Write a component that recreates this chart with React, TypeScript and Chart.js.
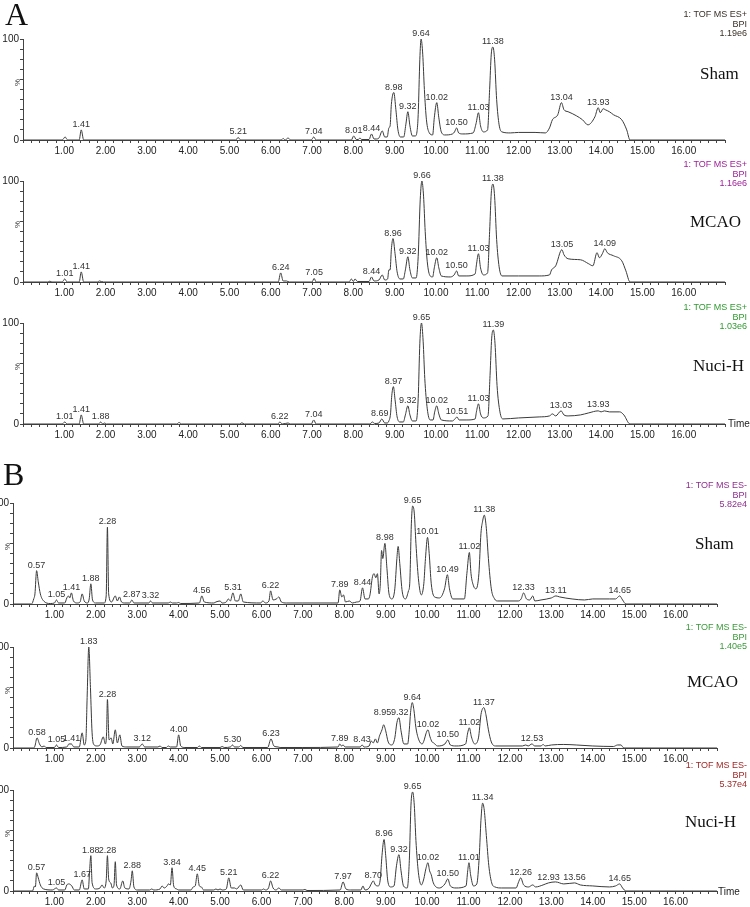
import React, { useEffect, useRef } from 'react';
import { Chart, registerables } from 'chart.js';

Chart.register(...registerables);

type Pt = [number, number];
type PeakLabel = [number, number, string];

// ---------- axis data ----------
const X_MIN = 0;
const X_MAX = 17;
const xMajorTicks = [1, 2, 3, 4, 5, 6, 7, 8, 9, 10, 11, 12, 13, 14, 15, 16];
const yLabeledTicks = [0, 100];

// ---------- text data ----------
const sectionLetters = ['A', 'B'];
const groupNames = ['Sham', 'MCAO', 'Nuci-H'];
const modeA = ['1: TOF MS ES+', 'BPI'];
const modeB = ['1: TOF MS ES-', 'BPI'];
const intensitiesA = ['1.19e6', '1.16e6', '1.03e6'];
const intensitiesB = ['5.82e4', '1.40e5', '5.37e4'];
const modeColorsA = ['#3a3028', '#a0209a', '#2f9a2f'];
const modeColorsB = ['#8e2f8e', '#3a9a3a', '#a02828'];

// ---------- traces (retention time [min], relative intensity [%]) ----------
const aShamTrace: Pt[] = [
  [0, 0], [0.95, 0], [1.02, 3], [1.08, 0], [1.36, 0], [1.41, 10], [1.47, 0], [5.15, 0], [5.21, 2.5], [5.27, 0],
  [6.25, 0], [6.3, 1.5], [6.35, 0], [6.42, 2], [6.48, 0], [6.98, 0], [7.04, 3], [7.1, 0], [7.95, 0], [8.01, 4],
  [8.07, 0.5], [8.12, 0.5], [8.16, 2], [8.2, 0.5], [8.38, 0.5], [8.44, 6], [8.5, 1], [8.55, 1], [8.62, 2], [8.7, 9],
  [8.76, 3], [8.82, 3], [8.86, 12], [8.89, 14], [8.92, 35], [8.98, 47], [9.03, 30], [9.08, 10], [9.14, 3], [9.22, 3],
  [9.27, 15], [9.32, 28], [9.37, 14], [9.43, 4], [9.5, 4], [9.54, 8], [9.57, 25], [9.61, 80], [9.64, 100],
  [9.68, 85], [9.72, 50], [9.77, 20], [9.84, 7], [9.92, 5], [9.96, 22], [10.02, 37], [10.07, 22], [10.13, 8],
  [10.22, 5], [10.4, 6], [10.45, 8], [10.5, 12], [10.55, 7], [10.65, 6], [10.9, 7], [10.97, 16], [11.03, 27],
  [11.08, 14], [11.15, 8], [11.25, 10], [11.3, 50], [11.34, 85], [11.38, 92], [11.42, 80], [11.47, 40], [11.53, 15],
  [11.6, 8], [11.8, 7], [12.0, 7.5], [12.4, 7.5], [12.65, 7], [12.75, 12], [12.82, 20], [12.95, 25],
  [13.04, 37], [13.1, 30], [13.2, 28], [13.4, 24], [13.55, 20], [13.68, 15], [13.85, 23], [13.93, 32], [13.98, 27],
  [14.05, 31], [14.1, 30], [14.2, 28], [14.3, 25], [14.5, 20], [14.62, 10], [14.7, 0], [17, 0],
];

const aMcaoTrace: Pt[] = [
  [0, 0], [0.6, 0], [0.65, 0.8], [0.7, 0], [0.95, 0], [1.01, 3], [1.07, 0], [1.36, 0], [1.41, 10], [1.47, 0],
  [1.8, 0], [1.85, 1], [1.95, 0], [6.18, 0], [6.24, 9], [6.3, 1], [6.38, 1], [6.45, 0], [7.0, 0], [7.05, 3.5],
  [7.1, 0], [7.9, 0], [7.95, 3], [8.0, 0.5], [8.04, 3], [8.1, 0.5], [8.38, 0.5], [8.44, 5], [8.5, 1], [8.62, 2],
  [8.7, 7], [8.76, 2], [8.83, 3], [8.86, 12], [8.89, 12], [8.92, 32], [8.96, 43], [9.01, 28], [9.06, 10], [9.13, 3],
  [9.21, 3], [9.26, 12], [9.32, 25], [9.37, 12], [9.43, 4], [9.52, 4], [9.57, 25], [9.62, 82], [9.66, 100],
  [9.7, 85], [9.74, 50], [9.79, 20], [9.86, 6], [9.92, 5], [9.96, 14], [10.02, 24], [10.07, 14], [10.13, 6],
  [10.35, 5], [10.44, 7], [10.5, 11], [10.55, 6], [10.75, 6], [10.95, 8], [10.98, 17], [11.03, 28], [11.08, 14],
  [11.15, 7], [11.25, 9], [11.3, 50], [11.34, 88], [11.38, 97], [11.42, 85], [11.47, 42], [11.53, 15], [11.6, 6],
  [12.0, 6], [12.5, 6], [12.75, 7], [12.8, 12], [12.9, 16], [13.05, 32], [13.1, 27], [13.2, 23], [13.5, 22],
  [13.7, 18], [13.8, 16], [13.9, 29], [13.96, 24], [14.03, 28], [14.09, 33], [14.15, 29], [14.3, 26], [14.5, 21],
  [14.6, 11], [14.7, 0], [17, 0],
];

const aNuciTrace: Pt[] = [
  [0, 0], [0.95, 0], [1.01, 2], [1.07, 0], [1.36, 0], [1.41, 9], [1.47, 0], [1.83, 0], [1.88, 2], [1.93, 0],
  [1.98, 1], [2.02, 0], [3.72, 0], [3.78, 1.5], [3.84, 0], [5.25, 0], [5.3, 1.2], [5.36, 0], [6.17, 0], [6.22, 2],
  [6.28, 0], [6.42, 1], [6.48, 0], [6.98, 0], [7.04, 4], [7.1, 0], [8.4, 0], [8.46, 2], [8.52, 0.5], [8.62, 1],
  [8.69, 5], [8.76, 1], [8.82, 1], [8.86, 3], [8.9, 10], [8.93, 28], [8.97, 37], [9.01, 24], [9.06, 7], [9.13, 2],
  [9.21, 2], [9.26, 9], [9.32, 18], [9.37, 9], [9.43, 3], [9.52, 3], [9.57, 25], [9.61, 80], [9.65, 100],
  [9.69, 82], [9.73, 45], [9.79, 15], [9.86, 4], [9.93, 4], [9.97, 12], [10.02, 18], [10.07, 10], [10.13, 4],
  [10.4, 3], [10.46, 5], [10.51, 7], [10.56, 4], [10.75, 4], [10.95, 5], [10.98, 12], [11.03, 20], [11.08, 10],
  [11.15, 6], [11.26, 8], [11.31, 48], [11.35, 85], [11.39, 93], [11.43, 80], [11.48, 38], [11.55, 12], [11.62, 5],
  [12.0, 6], [12.5, 7], [12.75, 8], [12.82, 10], [12.9, 8], [13.03, 13], [13.1, 9], [13.2, 8], [13.5, 9],
  [13.7, 11], [13.93, 13], [14.0, 12], [14.08, 13], [14.2, 12], [14.45, 12], [14.55, 9], [14.7, 0], [17, 0],
];

const bShamTrace: Pt[] = [
  [0, 0], [0.45, 0], [0.5, 5], [0.53, 10], [0.57, 33], [0.61, 22], [0.66, 10], [0.74, 3], [0.9, 0.5], [1.0, 1],
  [1.05, 4], [1.1, 1], [1.25, 1], [1.3, 6], [1.34, 8], [1.37, 6], [1.41, 11], [1.46, 3], [1.55, 1], [1.62, 2],
  [1.67, 10], [1.72, 3], [1.8, 1], [1.84, 5], [1.88, 20], [1.92, 4], [2.0, 1], [2.2, 1], [2.25, 8], [2.28, 76],
  [2.31, 10], [2.38, 2], [2.47, 8], [2.52, 3], [2.57, 7], [2.62, 2], [2.7, 1], [2.82, 1], [2.87, 4], [2.92, 1],
  [3.28, 1], [3.32, 3], [3.37, 1], [3.75, 1], [3.8, 2], [3.85, 1], [3.95, 1], [4.0, 1.5], [4.05, 0.5], [4.5, 1],
  [4.56, 8], [4.62, 2], [4.85, 1], [4.9, 2], [5.0, 3], [5.05, 1], [5.15, 2], [5.2, 5], [5.25, 3], [5.31, 11],
  [5.37, 3], [5.44, 3], [5.5, 10], [5.56, 2], [5.98, 1], [6.03, 3], [6.1, 1], [6.18, 3], [6.22, 13], [6.28, 4],
  [6.36, 5], [6.42, 7], [6.48, 2], [6.6, 1], [7.0, 1], [7.85, 1], [7.89, 14], [7.94, 7], [7.98, 9], [8.03, 2],
  [8.12, 3], [8.2, 1], [8.3, 2], [8.38, 3], [8.44, 16], [8.5, 5], [8.58, 5], [8.62, 9], [8.68, 27], [8.72, 30],
  [8.76, 26], [8.8, 30], [8.84, 10], [8.87, 20], [8.9, 53], [8.93, 45], [8.98, 60], [9.03, 35], [9.08, 10],
  [9.15, 5], [9.22, 15], [9.27, 45], [9.3, 57], [9.34, 40], [9.4, 12], [9.48, 5], [9.55, 13], [9.58, 20],
  [9.62, 80], [9.65, 97], [9.69, 90], [9.73, 60], [9.79, 25], [9.86, 9], [9.92, 20], [9.96, 45], [10.01, 66],
  [10.05, 50], [10.1, 20], [10.18, 7], [10.3, 6], [10.42, 15], [10.49, 29], [10.54, 15], [10.62, 5], [10.9, 5],
  [10.96, 30], [11.02, 51], [11.06, 30], [11.12, 18], [11.18, 15], [11.25, 30], [11.3, 70], [11.34, 82],
  [11.38, 88], [11.43, 75], [11.48, 45], [11.55, 15], [11.63, 5], [11.7, 3], [12.2, 3], [12.27, 5], [12.33, 11],
  [12.4, 5], [12.48, 4], [12.55, 8], [12.6, 3], [12.75, 4], [13.0, 6], [13.11, 8], [13.2, 7], [13.5, 5], [13.8, 4],
  [14.0, 5], [14.4, 5], [14.55, 5], [14.65, 8], [14.72, 4], [14.8, 0], [17, 0],
];

const bMcaoTrace: Pt[] = [
  [0, 0], [0.5, 0], [0.53, 2], [0.58, 10], [0.64, 4], [0.7, 1], [0.75, 2], [0.8, 0.5], [1.0, 0.5], [1.05, 3],
  [1.1, 0.5], [1.3, 1], [1.35, 4], [1.41, 4], [1.47, 1], [1.6, 1], [1.67, 15], [1.72, 3], [1.76, 8], [1.79, 50],
  [1.83, 100], [1.87, 60], [1.91, 15], [1.96, 3], [2.03, 2], [2.1, 3], [2.18, 11], [2.23, 4], [2.26, 15],
  [2.28, 48], [2.32, 8], [2.37, 10], [2.41, 4], [2.47, 18], [2.52, 5], [2.58, 13], [2.63, 2], [2.75, 1], [3.05, 1],
  [3.12, 4], [3.18, 1], [3.5, 1], [3.55, 2], [3.6, 0.5], [3.7, 0.5], [3.75, 2], [3.8, 1], [3.95, 1], [4.0, 13],
  [4.05, 2], [4.15, 0.5], [4.45, 0.5], [4.5, 2], [4.55, 0.5], [5.0, 0.5], [5.05, 1.5], [5.1, 0.5], [5.25, 1],
  [5.3, 3], [5.35, 1], [5.45, 1], [5.5, 2.5], [5.55, 0.5], [6.15, 0.5], [6.23, 9], [6.3, 2], [6.4, 1], [6.45, 0.5],
  [7.0, 0.5], [7.85, 1], [7.89, 4], [7.93, 2], [7.97, 3], [8.02, 1], [8.38, 1], [8.43, 3], [8.48, 1], [8.6, 2],
  [8.65, 7], [8.7, 5], [8.75, 9], [8.8, 5], [8.85, 12], [8.88, 15], [8.91, 18], [8.95, 23], [9.0, 17], [9.06, 6],
  [9.15, 3], [9.22, 10], [9.27, 25], [9.32, 30], [9.37, 17], [9.44, 4], [9.53, 4], [9.57, 18], [9.6, 35],
  [9.64, 45], [9.68, 38], [9.73, 20], [9.8, 8], [9.88, 4], [9.93, 8], [9.97, 14], [10.02, 18], [10.07, 11],
  [10.12, 6], [10.16, 5], [10.25, 2], [10.43, 4], [10.5, 8], [10.56, 3], [10.7, 2], [10.93, 4], [10.98, 15],
  [11.02, 20], [11.07, 11], [11.15, 4], [11.24, 10], [11.3, 33], [11.34, 39], [11.37, 40], [11.42, 33],
  [11.48, 18], [11.55, 6], [11.65, 2], [12.3, 2], [12.38, 3], [12.44, 2], [12.53, 4], [12.6, 2], [12.75, 2],
  [12.8, 3.5], [12.85, 2], [13.0, 3], [13.3, 3.5], [13.6, 3], [14.0, 2], [14.5, 1.5], [14.6, 3], [14.68, 3],
  [14.75, 0], [17, 0],
];

const bNuciTrace: Pt[] = [
  [0, 0], [0.47, 0], [0.52, 5], [0.54, 4], [0.57, 18], [0.61, 13], [0.66, 6], [0.74, 2], [0.95, 1], [1.05, 3],
  [1.1, 1], [1.25, 1], [1.3, 6], [1.35, 7], [1.42, 5], [1.48, 1], [1.6, 1], [1.67, 11], [1.72, 2], [1.82, 2],
  [1.85, 20], [1.88, 35], [1.91, 8], [2.0, 2], [2.1, 3], [2.15, 6], [2.2, 3], [2.25, 10], [2.28, 35], [2.31, 12],
  [2.36, 8], [2.4, 3], [2.44, 6], [2.47, 29], [2.5, 6], [2.58, 2], [2.65, 10], [2.7, 3], [2.8, 2], [2.85, 10],
  [2.88, 20], [2.92, 4], [3.0, 1], [3.3, 1], [3.35, 2], [3.4, 1], [3.55, 2], [3.6, 5], [3.65, 3], [3.72, 5],
  [3.75, 7], [3.8, 6], [3.84, 23], [3.88, 5], [3.95, 2], [4.0, 1], [4.3, 1], [4.35, 4], [4.4, 5], [4.45, 17],
  [4.5, 5], [4.55, 4], [4.6, 1], [4.85, 1], [4.9, 2], [4.95, 1], [5.0, 2], [5.05, 1], [5.15, 2], [5.21, 13],
  [5.27, 3], [5.35, 3], [5.4, 2], [5.5, 6], [5.56, 1], [6.0, 1], [6.05, 2], [6.1, 1], [6.17, 3], [6.22, 10],
  [6.28, 3], [6.35, 1], [6.42, 3], [6.48, 1], [7.0, 1], [7.05, 1.5], [7.1, 0.5], [7.9, 1], [7.97, 9], [8.04, 2],
  [8.15, 1], [8.4, 1], [8.45, 5], [8.5, 1], [8.6, 3], [8.65, 7], [8.7, 10], [8.75, 6], [8.82, 5], [8.87, 12],
  [8.91, 35], [8.96, 51], [9.0, 35], [9.05, 10], [9.12, 4], [9.2, 5], [9.26, 25], [9.32, 36], [9.37, 20],
  [9.43, 5], [9.52, 3], [9.57, 30], [9.61, 85], [9.65, 98], [9.69, 85], [9.73, 50], [9.79, 18], [9.86, 6],
  [9.92, 12], [9.97, 22], [10.02, 28], [10.06, 20], [10.1, 16], [10.15, 8], [10.3, 3], [10.43, 7], [10.5, 12],
  [10.56, 5], [10.7, 3], [10.94, 5], [10.98, 20], [11.01, 28], [11.05, 16], [11.12, 5], [11.2, 7], [11.26, 35],
  [11.3, 70], [11.34, 87], [11.38, 80], [11.43, 55], [11.49, 25], [11.56, 8], [11.64, 4], [11.8, 3], [12.15, 3],
  [12.2, 8], [12.26, 13], [12.33, 6], [12.45, 4], [12.55, 6], [12.62, 4], [12.8, 6], [12.93, 8], [13.1, 9],
  [13.3, 7], [13.56, 8], [13.7, 6], [14.0, 5], [14.4, 4], [14.55, 5], [14.65, 7], [14.72, 3], [14.8, 0], [17, 0],
];

// ---------- peak annotations (time, apex %, text) ----------
const aShamPeaks: PeakLabel[] = [
  [1.41, 10, '1.41'], [5.21, 2.5, '5.21'], [7.04, 3, '7.04'], [8.01, 4, '8.01'], [8.44, 6, '8.44'],
  [8.98, 47, '8.98'], [9.32, 28, '9.32'], [9.64, 100, '9.64'], [10.02, 37, '10.02'], [10.5, 12, '10.50'],
  [11.03, 27, '11.03'], [11.38, 92, '11.38'], [13.04, 37, '13.04'], [13.93, 32, '13.93'],
];
const aMcaoPeaks: PeakLabel[] = [
  [1.01, 3, '1.01'], [1.41, 10, '1.41'], [6.24, 9, '6.24'], [7.05, 3.5, '7.05'], [8.44, 5, '8.44'],
  [8.96, 43, '8.96'], [9.32, 25, '9.32'], [9.66, 100, '9.66'], [10.02, 24, '10.02'], [10.5, 11, '10.50'],
  [11.03, 28, '11.03'], [11.38, 97, '11.38'], [13.05, 32, '13.05'], [14.09, 33, '14.09'],
];
const aNuciPeaks: PeakLabel[] = [
  [1.01, 2, '1.01'], [1.41, 9, '1.41'], [1.88, 2, '1.88'], [6.22, 2, '6.22'], [7.04, 4, '7.04'],
  [8.64, 5, '8.69'], [8.97, 37, '8.97'], [9.32, 18, '9.32'], [9.65, 100, '9.65'], [10.02, 18, '10.02'],
  [10.51, 7, '10.51'], [11.03, 20, '11.03'], [11.39, 93, '11.39'], [13.03, 13, '13.03'], [13.93, 14, '13.93'],
];
const bShamPeaks: PeakLabel[] = [
  [0.57, 33, '0.57'], [1.05, 4, '1.05'], [1.41, 11, '1.41'], [1.88, 20, '1.88'], [2.28, 76, '2.28'],
  [2.87, 4, '2.87'], [3.32, 3, '3.32'], [4.56, 8, '4.56'], [5.31, 11, '5.31'], [6.22, 13, '6.22'],
  [7.89, 14, '7.89'], [8.44, 16, '8.44'], [8.98, 60, '8.98'], [9.65, 97, '9.65'], [10.01, 66, '10.01'],
  [10.49, 29, '10.49'], [11.02, 51, '11.02'], [11.38, 88, '11.38'], [12.33, 11, '12.33'], [13.11, 8, '13.11'],
  [14.65, 8, '14.65'],
];
const bMcaoPeaks: PeakLabel[] = [
  [0.58, 10, '0.58'], [1.05, 3, '1.05'], [1.41, 4, '1.41'], [1.83, 100, '1.83'], [2.28, 48, '2.28'],
  [3.12, 4, '3.12'], [4.0, 13, '4.00'], [5.3, 3, '5.30'], [6.23, 9, '6.23'], [7.89, 4, '7.89'],
  [8.43, 3, '8.43'], [8.92, 30, '8.95'], [9.34, 30, '9.32'], [9.64, 45, '9.64'], [10.02, 18, '10.02'],
  [10.5, 8, '10.50'], [11.02, 20, '11.02'], [11.37, 40, '11.37'], [12.53, 4, '12.53'],
];
const bNuciPeaks: PeakLabel[] = [
  [0.57, 18, '0.57'], [1.05, 3, '1.05'], [1.67, 11, '1.67'], [1.88, 35, '1.88'], [2.28, 35, '2.28'],
  [2.88, 20, '2.88'], [3.84, 23, '3.84'], [4.45, 17, '4.45'], [5.21, 13, '5.21'], [6.22, 10, '6.22'],
  [7.97, 9, '7.97'], [8.7, 10, '8.70'], [8.96, 51, '8.96'], [9.32, 36, '9.32'], [9.65, 98, '9.65'],
  [10.02, 28, '10.02'], [10.5, 12, '10.50'], [11.01, 28, '11.01'], [11.34, 87, '11.34'], [12.26, 13, '12.26'],
  [12.93, 8, '12.93'], [13.56, 8, '13.56'], [14.65, 7, '14.65'],
];

// ---------- layout ----------
const Y_AXIS_W = 40;
const PAD_TOP = 16;
const PAD_RIGHT = 8;
const X_AXIS_H = 22;
const PLOT_H = 101;

interface PanelSpec {
  trace: Pt[];
  peaks: PeakLabel[];
  axisX: number;
  top: number;
  ppm: number;
}

const panels: PanelSpec[] = [
  { trace: aShamTrace, peaks: aShamPeaks, axisX: 23, top: 39, ppm: 41.3 },
  { trace: aMcaoTrace, peaks: aMcaoPeaks, axisX: 23, top: 181, ppm: 41.3 },
  { trace: aNuciTrace, peaks: aNuciPeaks, axisX: 23, top: 323, ppm: 41.3 },
  { trace: bShamTrace, peaks: bShamPeaks, axisX: 13, top: 503, ppm: 41.4 },
  { trace: bMcaoTrace, peaks: bMcaoPeaks, axisX: 13, top: 647, ppm: 41.4 },
  { trace: bNuciTrace, peaks: bNuciPeaks, axisX: 13, top: 790, ppm: 41.4 },
];

const SANS = '"Liberation Sans", Arial, sans-serif';
const SERIF = '"Liberation Serif", "Times New Roman", serif';

function Panel({ spec }: { spec: PanelSpec }) {
  const ref = useRef<HTMLCanvasElement | null>(null);
  const width = Math.round(Y_AXIS_W + (X_MAX - X_MIN) * spec.ppm + PAD_RIGHT);
  const height = PAD_TOP + PLOT_H + X_AXIS_H;

  useEffect(() => {
    if (!ref.current) return;
    const peaks = spec.peaks;
    const peakLabelPlugin = {
      id: 'peakLabels',
      afterDraw(chart: any) {
        const { ctx } = chart;
        const xs = chart.scales.x;
        const ys = chart.scales.y;
        ctx.save();
        ctx.font = `9px ${SANS}`;
        ctx.fillStyle = '#333';
        ctx.textAlign = 'center';
        ctx.textBaseline = 'bottom';
        for (const [t, p, txt] of peaks) {
          ctx.fillText(txt, xs.getPixelForValue(t), ys.getPixelForValue(p) - 1);
        }
        ctx.restore();
      },
    };
    const chart = new Chart(ref.current, {
      type: 'line',
      data: {
        datasets: [
          {
            data: spec.trace.map(([x, y]) => ({ x, y })),
            borderColor: '#3a3a3a',
            borderWidth: 1,
            pointRadius: 0,
            fill: false,
            cubicInterpolationMode: 'monotone',
            clip: 8,
          } as any,
        ],
      },
      options: {
        animation: false,
        responsive: false,
        maintainAspectRatio: false,
        layout: { padding: { left: 0, right: PAD_RIGHT, top: PAD_TOP, bottom: 0 } },
        plugins: { legend: { display: false }, tooltip: { enabled: false } },
        scales: {
          x: {
            type: 'linear',
            min: X_MIN,
            max: X_MAX,
            afterFit: (s: any) => {
              s.height = X_AXIS_H;
            },
            grid: { drawOnChartArea: false, tickLength: 3, color: '#444' },
            border: { color: '#444', width: 1 },
            ticks: {
              stepSize: 0.2,
              autoSkip: false,
              maxRotation: 0,
              minRotation: 0,
              padding: 2,
              color: '#222',
              font: { size: 10, family: SANS },
              callback: (v: any) => {
                const n = Number(v);
                return xMajorTicks.includes(n) ? n.toFixed(2) : '';
              },
            },
          },
          y: {
            min: 0,
            max: 100,
            afterFit: (s: any) => {
              s.width = Y_AXIS_W;
            },
            grid: { drawOnChartArea: false, tickLength: 3, color: '#444' },
            border: { color: '#444', width: 1 },
            ticks: {
              stepSize: 10,
              autoSkip: false,
              padding: 1,
              color: '#222',
              font: { size: 10, family: SANS },
              callback: (v: any) => (yLabeledTicks.includes(Number(v)) ? String(v) : ''),
            },
          },
        },
      } as any,
      plugins: [peakLabelPlugin],
    });
    return () => chart.destroy();
  }, [spec]);

  return (
    <canvas
      ref={ref}
      width={width}
      height={height}
      style={{
        position: 'absolute',
        left: spec.axisX - Y_AXIS_W,
        top: spec.top - PAD_TOP,
        width,
        height,
      }}
    />
  );
}

const abs = (style: React.CSSProperties): React.CSSProperties => ({ position: 'absolute', whiteSpace: 'nowrap', ...style });

export default function App() {
  const modeBlocks = [
    { lines: [...modeA, intensitiesA[0]], color: modeColorsA[0], top: 10 },
    { lines: [...modeA, intensitiesA[1]], color: modeColorsA[1], top: 160 },
    { lines: [...modeA, intensitiesA[2]], color: modeColorsA[2], top: 303 },
    { lines: [...modeB, intensitiesB[0]], color: modeColorsB[0], top: 481 },
    { lines: [...modeB, intensitiesB[1]], color: modeColorsB[1], top: 623 },
    { lines: [...modeB, intensitiesB[2]], color: modeColorsB[2], top: 761 },
  ];
  const groupPos = [
    { left: 700, top: 64 },
    { left: 690, top: 212 },
    { left: 693, top: 356 },
    { left: 695, top: 534 },
    { left: 687, top: 672 },
    { left: 685, top: 812 },
  ];
  const percentPos = [
    { left: 13, top: 86 },
    { left: 13, top: 228 },
    { left: 13, top: 370 },
    { left: 3, top: 550 },
    { left: 3, top: 694 },
    { left: 3, top: 837 },
  ];
  return (
    <div
      style={{
        position: 'absolute',
        left: 0,
        top: 0,
        width: 750,
        height: 907,
        overflow: 'hidden',
        background: '#fff',
      }}
    >
      {panels.map((p, i) => (
        <Panel key={i} spec={p} />
      ))}
      <div style={abs({ left: 5, top: -4, fontFamily: SERIF, fontSize: 32, color: '#111' })}>{sectionLetters[0]}</div>
      <div style={abs({ left: 3, top: 456, fontFamily: SERIF, fontSize: 32, color: '#111' })}>{sectionLetters[1]}</div>
      {modeBlocks.map((b, i) => (
        <div
          key={i}
          style={abs({
            right: 3,
            top: b.top,
            textAlign: 'right',
            fontFamily: SANS,
            fontSize: 9,
            lineHeight: '9.5px',
            color: b.color,
          })}
        >
          {b.lines.map((l, j) => (
            <div key={j}>{l}</div>
          ))}
        </div>
      ))}
      {groupPos.map((g, i) => (
        <div key={i} style={abs({ left: g.left, top: g.top, fontFamily: SERIF, fontSize: 17, color: '#111' })}>
          {groupNames[i % 3]}
        </div>
      ))}
      {percentPos.map((p, i) => (
        <div
          key={i}
          style={abs({
            left: p.left,
            top: p.top,
            fontFamily: SANS,
            fontSize: 8,
            color: '#333',
            transform: 'rotate(-90deg)',
            transformOrigin: 'left top',
          })}
        >
          %
        </div>
      ))}
      <div style={abs({ left: 728, top: 418, fontFamily: SANS, fontSize: 10, color: '#222' })}>Time</div>
      <div style={abs({ left: 718, top: 886, fontFamily: SANS, fontSize: 10, color: '#222' })}>Time</div>
    </div>
  );
}
